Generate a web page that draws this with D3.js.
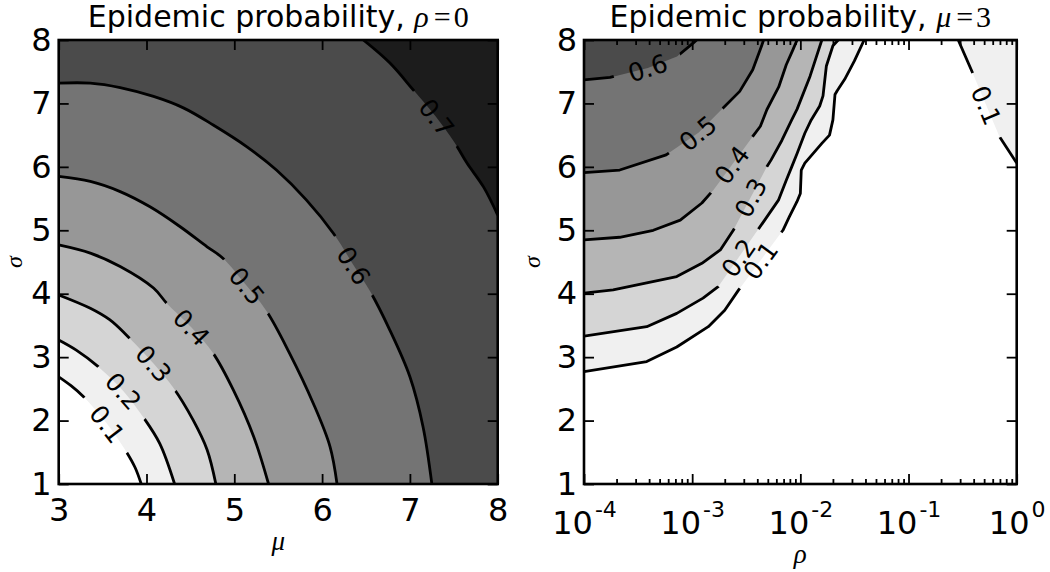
<!DOCTYPE html>
<html>
<head>
<meta charset="utf-8">
<script src="https://cdn.jsdelivr.net/npm/d3@7"></script>
<style>
  body { margin: 0; background: #fff; overflow: hidden; }
</style>
</head>
<body>
<script>
////// DATEN

// Konturstufen
var levels = [0.1, 0.2, 0.3, 0.4, 0.5, 0.6, 0.7];

// Achsenbeschriftung
var mu_ticks = [3, 4, 5, 6, 7, 8];
var sigma_ticks = [1, 2, 3, 4, 5, 6, 7, 8];
var rho_ticks = [1e-4, 1e-3, 1e-2, 1e-1, 1];
var rho_exponents = ["-4", "-3", "-2", "-1", "0"];

// linkes Bild (rho = 0): Konturlinien als [mu, sigma]
var left_01 = [[3, 2.69], [3.14, 2.55], [3.28, 2.38], [3.55, 1.95], [3.77, 1.51], [3.87, 1.26], [3.94, 1]];
var left_02 = [[3, 3.27], [3.2, 3.11], [3.45, 2.85], [3.74, 2.46], [3.96, 2.06], [4.15, 1.64], [4.32, 1]];
var left_03 = [[3, 3.98], [3.36, 3.77], [3.58, 3.59], [3.77, 3.35], [4.08, 2.90], [4.31, 2.51], [4.53, 2.01], [4.69, 1.54], [4.79, 1]];
var left_04 = [[3, 4.77], [3.36, 4.64], [3.70, 4.43], [4.08, 4.09], [4.23, 3.85], [4.51, 3.47], [4.76, 3.06], [4.99, 2.48], [5.22, 1.75], [5.39, 1]];
var left_05 = [[3, 5.85], [3.36, 5.77], [3.70, 5.61], [4.04, 5.37], [4.38, 5.06], [4.69, 4.74], [4.87, 4.56], [5.12, 4.16], [5.37, 3.72], [5.63, 3.06], [5.90, 2.27], [6.09, 1.59], [6.17, 1]];
var left_06 = [[3, 7.32], [3.36, 7.32], [3.70, 7.25], [4.08, 7.11], [4.42, 6.93], [4.76, 6.66], [5.14, 6.32], [5.48, 5.95], [5.82, 5.48], [6.13, 4.95], [6.34, 4.49], [6.55, 4.03], [6.77, 3.43], [7.0, 2.69], [7.15, 1.90], [7.25, 1]];
var left_07 = [[6.47, 8], [6.77, 7.64], [7.04, 7.21], [7.29, 6.80], [7.51, 6.38], [7.65, 6.06], [7.84, 5.68], [8, 5.24]];
var left_labels = [[3.55, 1.95], [3.74, 2.46], [4.08, 2.90], [4.51, 3.47], [5.16, 4.14], [6.36, 4.44], [7.29, 6.77]];

// rechtes Bild (mu = 3): Konturlinien als [rho, sigma]
var right_01 = [[1e-4, 2.77], [3.8e-4, 2.93], [7.2e-4, 3.16], [1.41e-3, 3.48], [2.0e-3, 3.74], [2.69e-3, 4.06], [6.9e-3, 5.00], [7.9e-3, 5.21], [9.3e-3, 5.45], [1.0e-2, 5.58], [1.02e-2, 5.95], [1.10e-2, 6.06], [1.58e-2, 6.37], [1.86e-2, 6.50], [2.0e-2, 6.74], [2.09e-2, 7.14], [2.19e-2, 7.20], [2.57e-2, 7.38], [3.16e-2, 7.67], [3.89e-2, 8]];
var right_02 = [[1e-4, 3.33], [3.8e-4, 3.48], [7.2e-4, 3.69], [1.26e-3, 3.93], [1.74e-3, 4.11], [4.68e-3, 5.16], [6.3e-3, 5.48], [7.41e-3, 5.79], [8.32e-3, 6.0], [9.33e-3, 6.21], [1.10e-2, 6.53], [1.26e-2, 6.74], [1.51e-2, 6.96], [1.62e-2, 7.12], [1.74e-2, 7.59], [2.0e-2, 7.91], [2.24e-2, 8]];
var right_03 = [[1e-4, 4.01], [1.86e-4, 4.06], [3.8e-4, 4.17], [7.2e-4, 4.27], [1.23e-3, 4.48], [1.82e-3, 4.69], [2.4e-3, 5.0], [4.9e-3, 6.0], [5.37e-3, 6.11], [6.76e-3, 6.42], [8.32e-3, 6.74], [9.33e-3, 6.91], [1.23e-2, 7.43], [1.58e-2, 8]];
var right_04 = [[1e-4, 4.85], [2.14e-4, 4.89], [4.37e-4, 5.0], [7.76e-4, 5.16], [1.23e-3, 5.43], [1.58e-3, 5.64], [3.63e-3, 6.48], [4.27e-3, 6.64], [4.9e-3, 6.90], [6.31e-3, 7.26], [7.41e-3, 7.61], [8.51e-3, 7.84], [9.33e-3, 8]];
var right_05 = [[1e-4, 5.91], [2.14e-4, 5.95], [5.75e-4, 6.19], [1.15e-3, 6.54], [1.86e-3, 6.90], [2.75e-3, 7.19], [3.63e-3, 7.53], [4.37e-3, 7.90], [4.57e-3, 8]];
var right_06 = [[1e-4, 7.37], [1.74e-4, 7.41], [3.89e-4, 7.56], [7.24e-4, 7.74], [1.02e-3, 7.95], [1.10e-3, 8]];
var right_01b = [[0.288, 8], [0.38, 7.53], [0.692, 6.48], [1, 6.06]];
var right_labels = [[4.47e-3, 4.50], [2.69e-3, 4.56], [3.55e-3, 5.50], [2.45e-3, 6.0], [1.15e-3, 6.52], [3.89e-4, 7.57]];
var right_label_01b = [0.479, 6.95];

////// ZEICHNEN

var width = 1050, height = 572;
var band_colors = ["#ffffff", "#f0f0f0", "#d5d5d5", "#b5b5b5", "#979797", "#747474", "#4b4b4b", "#1c1c1c"];
var tick_font = "DejaVu Sans";
var math_font = "Liberation Serif";

var svg = d3.select("body").append("svg")
  .attr("width", width)
  .attr("height", height);
var defs = svg.append("defs");

// Achsen-Gruppe im matplotlib-Stil
var styleAxis = function(g) {
  g.attr("font-size", null).attr("font-family", null);
  g.select(".domain").remove();
  g.selectAll(".tick line").style("stroke", "#000").style("stroke-width", 1.8);
  g.selectAll(".tick text")
    .style("font-family", tick_font)
    .style("font-size", "32px")
    .style("fill", "#000");
};

// ein Konturbild rendern
var renderPanel = function(p) {
  var x = p.x, y = p.y;
  var left = x.range()[0], right = x.range()[1];
  var top = y.range()[1], bottom = y.range()[0];
  var corner = { tl: [left, top], tr: [right, top], bl: [left, bottom], br: [right, bottom] };

  var line = d3.line()
    .x(function(d) { return x(d[0]); })
    .y(function(d) { return y(d[1]); })
    .curve(p.curve);

  var clip_id = "clip-" + p.name;
  defs.append("clipPath").attr("id", clip_id)
    .append("rect")
    .attr("x", left).attr("y", top)
    .attr("width", right - left).attr("height", bottom - top);

  var plot = svg.append("g").attr("clip-path", "url(#" + clip_id + ")");

  plot.append("rect")
    .attr("x", left).attr("y", top)
    .attr("width", right - left).attr("height", bottom - top)
    .style("fill", band_colors[0]);

  // Flächen (von niedrig nach hoch übermalen)
  p.contours.forEach(function(c) {
    var d = line(c.points) + c.close.map(function(k) { return "L" + corner[k].join(","); }).join("") + "Z";
    plot.append("path")
      .attr("d", d)
      .style("stroke", "none")
      .style("fill", band_colors[levels.indexOf(c.level) + 1]);
  });

  // Linien mit Beschriftung, Lücke per Maske
  p.contours.forEach(function(c, i) {
    var path = plot.append("path")
      .attr("d", line(c.points))
      .style("fill", "none")
      .style("stroke", "#000")
      .style("stroke-width", 2.8)
      .style("stroke-linejoin", "round");

    var node = path.node(), len = node.getTotalLength();
    var tx = x(c.label[0]), ty = y(c.label[1]);
    var best = 0, best_d = Infinity;
    for (var s = 0; s <= len; s += 1) {
      var pt = node.getPointAtLength(s);
      var dd = (pt.x - tx) * (pt.x - tx) + (pt.y - ty) * (pt.y - ty);
      if (dd < best_d) { best_d = dd; best = s; }
    }
    var cp = node.getPointAtLength(best);
    var pa = node.getPointAtLength(Math.max(0, best - 14));
    var pb = node.getPointAtLength(Math.min(len, best + 14));
    var angle = Math.atan2(pb.y - pa.y, pb.x - pa.x) * 180 / Math.PI;
    if (angle > 90) angle -= 180;
    if (angle < -90) angle += 180;

    var label = svg.append("text")
      .attr("transform", "translate(" + cp.x + "," + cp.y + ") rotate(" + angle + ")")
      .attr("text-anchor", "middle")
      .attr("dy", "0.36em")
      .style("font-family", tick_font)
      .style("font-size", "25px")
      .style("fill", "#000")
      .text(c.level.toFixed(1));

    var gap = label.node().getComputedTextLength() + 30;
    var mask_id = "mask-" + p.name + "-" + i;
    var mask = defs.append("mask")
      .attr("id", mask_id)
      .attr("maskUnits", "userSpaceOnUse")
      .attr("x", 0).attr("y", 0)
      .attr("width", width).attr("height", height);
    mask.append("rect")
      .attr("x", 0).attr("y", 0)
      .attr("width", width).attr("height", height)
      .style("fill", "#fff");
    mask.append("rect")
      .attr("x", -gap / 2).attr("y", -9)
      .attr("width", gap).attr("height", 18)
      .attr("transform", "translate(" + cp.x + "," + cp.y + ") rotate(" + angle + ")")
      .style("fill", "#000");
    path.attr("mask", "url(#" + mask_id + ")");
  });

  // Ticks
  p.axes(x, y, left, right, top, bottom);

  // Rahmen
  svg.append("rect")
    .attr("x", left).attr("y", top)
    .attr("width", right - left).attr("height", bottom - top)
    .style("fill", "none")
    .style("stroke", "#000")
    .style("stroke-width", 2.6);

  // Titel
  var title = svg.append("text")
    .attr("x", (left + right) / 2)
    .attr("y", 27)
    .attr("text-anchor", "middle")
    .style("font-family", tick_font)
    .style("font-size", "30px")
    .style("fill", "#000")
    .text("Epidemic probability, ");
  title.append("tspan").style("font-family", math_font).style("font-style", "italic").style("font-size", "30px").text(p.title_var);
  title.append("tspan").attr("dx", 5).style("font-family", math_font).style("font-size", "30px").text("=");
  title.append("tspan").attr("dx", 3).style("font-family", math_font).style("font-size", "30px").text(p.title_value);

  // Achsentitel
  svg.append("text")
    .attr("x", (left + right) / 2)
    .attr("y", p.xlabel_y)
    .attr("text-anchor", "middle")
    .style("font-family", math_font)
    .style("font-style", "italic")
    .style("font-size", "27px")
    .text(p.xlabel);
  svg.append("text")
    .attr("transform", "translate(" + p.ylabel_x + "," + (top + bottom) / 2 + ") rotate(-90)")
    .attr("text-anchor", "middle")
    .style("font-family", math_font)
    .style("font-style", "italic")
    .style("font-size", "24px")
    .text("σ");
};

var int_format = d3.format("d");

////// LINKES BILD

renderPanel({
  name: "left",
  x: d3.scaleLinear().domain([3, 8]).range([58.7, 497.7]),
  y: d3.scaleLinear().domain([1, 8]).range([484, 40]),
  curve: d3.curveCatmullRom,
  title_var: "ρ",
  title_value: "0",
  xlabel: "μ",
  xlabel_y: 550,
  ylabel_x: 22,
  contours: [
    { level: 0.1, points: left_01, label: left_labels[0], close: ["br", "tr", "tl"] },
    { level: 0.2, points: left_02, label: left_labels[1], close: ["br", "tr", "tl"] },
    { level: 0.3, points: left_03, label: left_labels[2], close: ["br", "tr", "tl"] },
    { level: 0.4, points: left_04, label: left_labels[3], close: ["br", "tr", "tl"] },
    { level: 0.5, points: left_05, label: left_labels[4], close: ["br", "tr", "tl"] },
    { level: 0.6, points: left_06, label: left_labels[5], close: ["br", "tr", "tl"] },
    { level: 0.7, points: left_07, label: left_labels[6], close: ["tr"] }
  ],
  axes: function(x, y, left, right, top, bottom) {
    svg.append("g").attr("transform", "translate(0," + bottom + ")")
      .call(d3.axisBottom(x).tickValues(mu_ticks).tickFormat(int_format).tickSize(-10).tickPadding(14))
      .call(styleAxis);
    svg.append("g").attr("transform", "translate(0," + top + ")")
      .call(d3.axisTop(x).tickValues(mu_ticks).tickSize(-10).tickFormat(""))
      .call(styleAxis);
    svg.append("g").attr("transform", "translate(" + left + ",0)")
      .call(d3.axisLeft(y).tickValues(sigma_ticks).tickFormat(int_format).tickSize(-10).tickPadding(7))
      .call(styleAxis);
    svg.append("g").attr("transform", "translate(" + right + ",0)")
      .call(d3.axisRight(y).tickValues(sigma_ticks).tickSize(-10).tickFormat(""))
      .call(styleAxis);
  }
});

////// RECHTES BILD

renderPanel({
  name: "right",
  x: d3.scaleLog().domain([1e-4, 1]).range([584, 1016.7]),
  y: d3.scaleLinear().domain([1, 8]).range([484, 40]),
  curve: d3.curveLinear,
  title_var: "μ",
  title_value: "3",
  xlabel: "ρ",
  xlabel_y: 563,
  ylabel_x: 540,
  contours: [
    { level: 0.1, points: right_01, label: right_labels[0], close: ["tl"] },
    { level: 0.1, points: right_01b, label: right_label_01b, close: ["tr"] },
    { level: 0.2, points: right_02, label: right_labels[1], close: ["tl"] },
    { level: 0.3, points: right_03, label: right_labels[2], close: ["tl"] },
    { level: 0.4, points: right_04, label: right_labels[3], close: ["tl"] },
    { level: 0.5, points: right_05, label: right_labels[4], close: ["tl"] },
    { level: 0.6, points: right_06, label: right_labels[5], close: ["tl"] }
  ],
  axes: function(x, y, left, right, top, bottom) {
    // Nebenticks aus der Log-Skala
    var minor = x.ticks().filter(function(v) {
      return rho_ticks.every(function(t) { return Math.abs(Math.log10(v / t)) > 1e-6; });
    });
    svg.append("g").attr("transform", "translate(0," + bottom + ")")
      .call(d3.axisBottom(x).tickValues(minor).tickSize(-5).tickFormat(""))
      .call(styleAxis);
    svg.append("g").attr("transform", "translate(0," + top + ")")
      .call(d3.axisTop(x).tickValues(minor).tickSize(-5).tickFormat(""))
      .call(styleAxis);
    svg.append("g").attr("transform", "translate(0," + top + ")")
      .call(d3.axisTop(x).tickValues(rho_ticks).tickSize(-10).tickFormat(""))
      .call(styleAxis);
    svg.append("g").attr("transform", "translate(0," + bottom + ")")
      .call(d3.axisBottom(x).tickValues(rho_ticks).tickSize(-10).tickPadding(27))
      .call(styleAxis)
      .selectAll(".tick text")
      .each(function(d, i) {
        var t = d3.select(this);
        t.text("");
        t.append("tspan").text("10");
        t.append("tspan").attr("dx", 2).attr("dy", -17).style("font-size", "22px").text(rho_exponents[i]);
      });
    svg.append("g").attr("transform", "translate(" + left + ",0)")
      .call(d3.axisLeft(y).tickValues(sigma_ticks).tickFormat(int_format).tickSize(-10).tickPadding(7))
      .call(styleAxis);
    svg.append("g").attr("transform", "translate(" + right + ",0)")
      .call(d3.axisRight(y).tickValues(sigma_ticks).tickSize(-10).tickFormat(""))
      .call(styleAxis);
  }
});
</script>
</body>
</html>
